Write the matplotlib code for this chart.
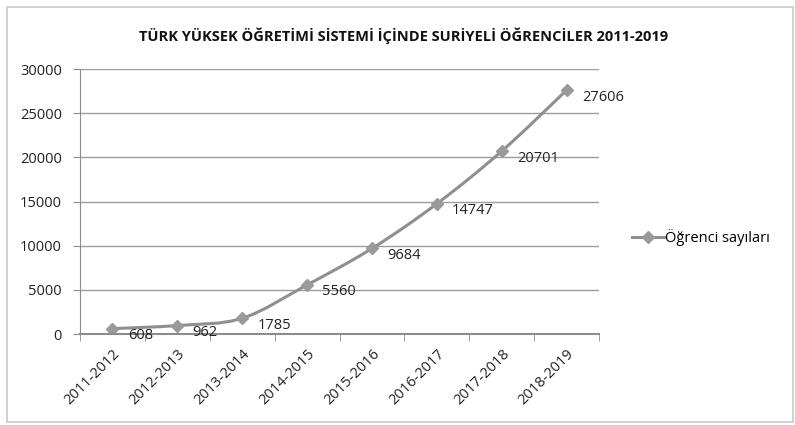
import matplotlib
matplotlib.use("Agg")
import matplotlib.pyplot as plt
from matplotlib.patches import Rectangle, PathPatch
from matplotlib.path import Path
from matplotlib.lines import Line2D
from matplotlib.ticker import FixedLocator

years = ["2011-2012", "2012-2013", "2013-2014", "2014-2015",
         "2015-2016", "2016-2017", "2017-2018", "2018-2019"]
students = [608, 962, 1785, 5560, 9684, 14747, 20701, 27606]
y_ticks = [0, 5000, 10000, 15000, 20000, 25000, 30000]

plt.rcParams["font.family"] = ["Open Sans", "DejaVu Sans"]

LINE_C = "#8f8f8f"
TEXT_C = "#222222"

fig = plt.figure(figsize=(7.95, 4.25), dpi=100)
fig.patches.append(Rectangle((0.009, 0.008), 0.988, 0.975, transform=fig.transFigure,
                             fill=False, edgecolor="#c8c8c8", linewidth=1.2))

ax = fig.add_axes([0.1006, 0.2141, 0.6529, 0.6235])
x = list(range(len(years)))

# smoothed line (Excel-style bezier through the points)
verts = [(x[0], students[0])]
codes = [Path.MOVETO]
n = len(x)
for i in range(n - 1):
    p0 = (x[max(i - 1, 0)], students[max(i - 1, 0)])
    p1 = (x[i], students[i])
    p2 = (x[i + 1], students[i + 1])
    p3 = (x[min(i + 2, n - 1)], students[min(i + 2, n - 1)])
    c1 = (p1[0] + (p2[0] - p0[0]) / 6, p1[1] + (p2[1] - p0[1]) / 6)
    c2 = (p2[0] - (p3[0] - p1[0]) / 6, p2[1] - (p3[1] - p1[1]) / 6)
    verts += [c1, c2, p2]
    codes += [Path.CURVE4] * 3
ax.add_patch(PathPatch(Path(verts, codes), fill=False, edgecolor=LINE_C, linewidth=2.2))
ax.plot(x, students, linestyle="none", marker="D", markersize=6.5,
        markerfacecolor="#9a9a9a", markeredgecolor="#9a9a9a")

for xi, v in zip(x, students):
    ax.annotate(str(v), (xi, v), xytext=(11, -5), textcoords="offset points",
                ha="left", va="center", fontsize=10.5, color=TEXT_C)

ax.set_xlim(-0.5, len(years) - 0.5)
ax.set_ylim(0, 30000)
ax.set_yticks(y_ticks)
ax.set_yticklabels([str(t) for t in y_ticks], fontsize=10.5, color=TEXT_C)
ax.set_xticks(x)
ax.set_xticklabels(years, rotation=45, ha="right", va="top", fontsize=10.5,
                   color=TEXT_C, rotation_mode="anchor")
ax.tick_params(axis="x", length=0, pad=9)
ax.xaxis.set_minor_locator(FixedLocator([i - 0.5 for i in range(len(years) + 1)]))
ax.tick_params(axis="x", which="minor", length=5, color="#8c8c8c", direction="out")
ax.tick_params(axis="y", length=5, color="#8c8c8c", direction="out", pad=8)

ax.grid(axis="y", color="#9c9c9c", linewidth=1.0)
ax.set_axisbelow(True)
for s in ["top", "right"]:
    ax.spines[s].set_visible(False)
ax.spines["left"].set_color("#8c8c8c")
ax.spines["bottom"].set_color("#8c8c8c")
ax.spines["bottom"].set_linewidth(1.5)

fig.text(0.508, 0.917, "TÜRK YÜKSEK ÖĞRETİMİ SİSTEMİ İÇİNDE SURİYELİ ÖĞRENCİLER 2011-2019",
         ha="center", va="center", fontsize=10.5, fontweight="bold", color="#111111")

handle = Line2D([], [], color=LINE_C, linewidth=2.2, marker="D", markersize=6.5,
                markerfacecolor="#9a9a9a", markeredgecolor="#9a9a9a")
fig.legend(handles=[handle], labels=["Öğrenci sayıları"], loc="center left",
           bbox_to_anchor=(0.778, 0.44), frameon=False, fontsize=10.5,
           handlelength=2.2, handletextpad=0.1)

fig.savefig("out.png", dpi=100)
